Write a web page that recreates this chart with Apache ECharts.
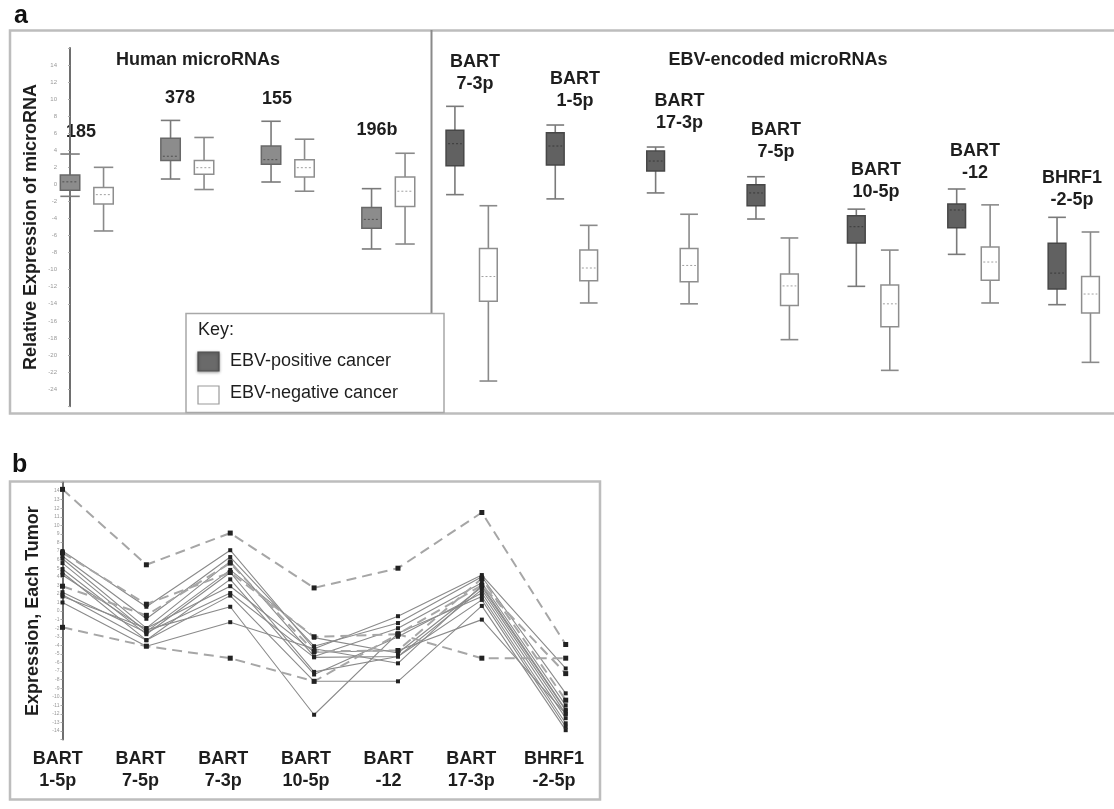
<!DOCTYPE html>
<html>
<head>
<meta charset="utf-8">
<script src="https://cdn.jsdelivr.net/npm/echarts@6/dist/echarts.min.js"></script>
<style>
html,body{margin:0;padding:0;background:#fff;}
#chart{width:1114px;height:809px;}
</style>
</head>
<body>
<div id="chart"></div>
<script>
// ---------- Panel a data: [low whisker, Q1, median, Q3, high whisker] ----------
const humanCats = ['185', '378', '155', '196b'];
const humanPos = [
  [-1.4, -0.7, 0.3, 1.1, 3.56],
  [0.63, 2.8, 3.3, 5.4, 7.5],
  [0.28, 2.35, 2.9, 4.5, 7.4],
  [-7.57, -5.15, -4.1, -2.7, -0.5]
];
const humanNeg = [
  [-5.46, -2.3, -1.2, -0.35, 2.0],
  [-0.6, 1.2, 1.96, 2.8, 5.5],
  [-0.8, 0.87, 1.96, 2.9, 5.3],
  [-6.99, -2.6, -0.8, 0.87, 3.65]
];
const ebvCats = ['BART\n7-3p', 'BART\n1-5p', 'BART\n17-3p', 'BART\n7-5p', 'BART\n10-5p', 'BART\n-12', 'BHRF1\n-2-5p'];
const ebvPos = [
  [-1.2, 2.2, 4.77, 6.34, 9.15],
  [-1.7, 2.27, 4.5, 6.06, 6.96],
  [-1.0, 1.57, 2.74, 3.9, 4.38],
  [-4.06, -2.5, -1.0, -0.03, 0.9],
  [-11.95, -6.87, -4.96, -3.67, -2.9],
  [-8.2, -5.07, -3.0, -2.3, -0.54],
  [-14.1, -12.26, -10.4, -6.9, -3.86]
];
const ebvNeg = [
  [-23.05, -13.7, -10.8, -7.5, -2.5],
  [-13.9, -11.3, -9.8, -7.7, -4.8],
  [-14.0, -11.4, -9.5, -7.5, -3.5],
  [-18.2, -14.2, -11.9, -10.5, -6.28],
  [-21.8, -16.7, -14.0, -11.8, -7.7],
  [-13.9, -11.25, -9.1, -7.34, -2.4],
  [-20.86, -15.07, -12.85, -10.8, -5.58]
];
const axisATicks = [-24, -22, -20, -18, -16, -14, -12, -10, -8, -6, -4, -2, 0, 2, 4, 6, 8, 10, 12, 14];

// ---------- Panel b data: expression of each tumor ----------
const tumorCats = ['BART\n1-5p', 'BART\n7-5p', 'BART\n7-3p', 'BART\n10-5p', 'BART\n-12', 'BART\n17-3p', 'BHRF1\n-2-5p'];
const tumorDashed1 = [14.2, 5.4, 9.1, 2.7, 5.0, 11.5, -3.9];
const tumorDashed2 = [-1.9, -4.1, -5.5, -8.2, -2.7, -5.5, -5.5];
const tumorDashed3 = [6.8, 0.8, 4.5, -3.0, -2.7, 3.0, -7.3];
const tumorDashed4 = [2.9, -0.5, 5.6, -4.7, -4.6, 3.8, -10.4];
const tumor1 = [7.0, 0.5, 7.1, -4.4, -0.6, 4.2, -6.7];
const tumor2 = [6.4, -0.9, 6.3, -4.1, -1.4, 4.0, -9.6];
const tumor3 = [6.1, -2.0, 5.8, -5.3, -2.0, 3.3, -11.0];
const tumor4 = [5.6, -2.4, 4.8, -3.1, -4.9, 2.8, -11.6];
const tumor5 = [4.9, -2.7, 4.5, -7.1, -5.3, 2.5, -12.0];
const tumor6 = [4.5, -3.4, 3.7, -7.4, -3.0, 2.1, -12.5];
const tumor7 = [4.2, -2.2, 0.5, -12.1, -2.6, 1.7, -13.1];
const tumor8 = [2.2, -2.5, 2.1, -5.4, -5.3, 1.3, -13.5];
const tumor9 = [1.9, -3.4, 1.8, -8.2, -8.2, 0.6, -13.9];
const tumor10 = [1.7, -2.0, 2.9, -4.8, -4.6, -1.0, -12.0];
const tumor11 = [1.0, -4.1, -1.3, -4.4, -6.1, 3.0, -11.5];
const axisBTicks = [-14, -13, -12, -11, -10, -9, -8, -7, -6, -5, -4, -3, -2, -1, 0, 1, 2, 3, 4, 5, 6, 7, 8, 9, 10, 11, 12, 13, 14];

// ---------- helpers ----------
const FONT = '"Liberation Sans", Arial, Helvetica, sans-serif';
function boxData(stats, offset) {
  return stats.map((s, i) => [i * 3 + offset].concat(s));
}
function boxRenderer(fill, stroke, whisker, medColor, widthUnits) {
  return function (params, api) {
    const x = api.value(0);
    const pLow = api.coord([x, api.value(1)]);
    const pQ1 = api.coord([x, api.value(2)]);
    const pMed = api.coord([x, api.value(3)]);
    const pQ3 = api.coord([x, api.value(4)]);
    const pHigh = api.coord([x, api.value(5)]);
    const bw = api.size([widthUnits, 0])[0];
    const cx = pLow[0];
    const ls = {stroke: whisker, lineWidth: 1.6};
    return {
      type: 'group',
      children: [
        {type: 'line', shape: {x1: cx, y1: pHigh[1], x2: cx, y2: pQ3[1]}, style: ls},
        {type: 'line', shape: {x1: cx, y1: pQ1[1], x2: cx, y2: pLow[1]}, style: ls},
        {type: 'line', shape: {x1: cx - bw / 2, y1: pHigh[1], x2: cx + bw / 2, y2: pHigh[1]}, style: ls},
        {type: 'line', shape: {x1: cx - bw / 2, y1: pLow[1], x2: cx + bw / 2, y2: pLow[1]}, style: ls},
        {type: 'rect', shape: {x: cx - bw / 2, y: pQ3[1], width: bw, height: pQ1[1] - pQ3[1]},
          style: {fill: fill, stroke: stroke, lineWidth: 1.5}},
        {type: 'line', shape: {x1: cx - bw / 2 + 2, y1: pMed[1], x2: cx + bw / 2 - 2, y2: pMed[1]},
          style: {stroke: medColor, lineWidth: 1, lineDash: [2, 2]}}
      ]
    };
  };
}
function tumorLine(data, dashed) {
  return {
    type: 'line', xAxisIndex: 2, yAxisIndex: 2, data: data,
    symbol: 'rect', symbolSize: dashed ? 5 : 4, silent: true, animation: false,
    itemStyle: {color: '#222'},
    lineStyle: dashed ? {color: '#a6a6a6', width: 2, type: [10, 6]} : {color: '#8a8a8a', width: 1.1},
    z: dashed ? 3 : 2
  };
}
function labelText(text, x, y, size, bold) {
  return {
    type: 'text', x: x, y: y, silent: true,
    style: {text: text, font: (bold ? 'bold ' : '') + size + 'px ' + FONT, fill: '#1e1e1e',
      textAlign: 'center', textVerticalAlign: 'middle', lineHeight: 22}
  };
}

const chart = echarts.init(document.getElementById('chart'), null, {renderer: 'canvas'});

const aLabels = [
  labelText('Human microRNAs', 198, 60, 18, true),
  labelText('EBV-encoded microRNAs', 778, 60, 18, true),
  labelText(humanCats[0], 81, 132, 18, true),
  labelText(humanCats[1], 180, 98, 18, true),
  labelText(humanCats[2], 277, 99, 18, true),
  labelText(humanCats[3], 377, 130, 18, true),
  labelText(ebvCats[0], 475, 73.5, 18, true),
  labelText(ebvCats[1], 575, 90.5, 18, true),
  labelText(ebvCats[2], 679.5, 112.5, 18, true),
  labelText(ebvCats[3], 776, 141, 18, true),
  labelText(ebvCats[4], 876, 181.5, 18, true),
  labelText(ebvCats[5], 975, 162, 18, true),
  labelText(ebvCats[6], 1072, 189, 18, true)
];

const option = {
  backgroundColor: '#ffffff',
  animation: false,
  textStyle: {fontFamily: FONT},
  grid: [
    {left: 60, top: 47.9, width: 355.1, height: 358.3},
    {left: 431.5, top: 47.9, width: 682.4, height: 358.3},
    {left: 62.5, top: 482.5, width: 503.2, height: 257.1},
    {left: 57.8, top: 482.5, width: 496.2, height: 257.1}
  ],
  xAxis: [
    {type: 'value', gridIndex: 0, min: -0.3, max: 10.3, show: false},
    {type: 'value', gridIndex: 1, min: -0.7, max: 19.7, show: false},
    {type: 'category', gridIndex: 2, data: tumorCats, boundaryGap: false,
      axisLine: {show: false}, axisTick: {show: false}, axisLabel: {show: false}, splitLine: {show: false}},
    {type: 'category', gridIndex: 3, data: tumorCats, boundaryGap: false,
      axisLine: {show: false}, axisTick: {show: false}, splitLine: {show: false},
      axisLabel: {show: true, interval: 0, margin: 8, fontSize: 18, fontWeight: 'bold', color: '#1e1e1e',
        lineHeight: 22, fontFamily: FONT}}
  ],
  yAxis: [
    {type: 'value', gridIndex: 0, min: -26, max: 16, interval: 2,
      name: 'Relative Expression of microRNA', nameLocation: 'middle', nameGap: 20,
      nameTextStyle: {fontSize: 18, fontWeight: 'bold', color: '#1e1e1e', fontFamily: FONT},
      axisLine: {show: true, lineStyle: {color: '#6e6e6e', width: 2}},
      axisTick: {show: true, length: 2, lineStyle: {color: '#aaa'}},
      splitLine: {show: false},
      axisLabel: {fontSize: 6, color: '#999', margin: 3,
        formatter: v => (axisATicks.indexOf(v) >= 0 ? String(v) : '')}},
    {type: 'value', gridIndex: 1, min: -26, max: 16, interval: 2, show: false, splitLine: {show: false}},
    {type: 'value', gridIndex: 2, min: -15, max: 15, interval: 1,
      name: 'Expression, Each Tumor', nameLocation: 'middle', nameGap: 20,
      nameTextStyle: {fontSize: 18, fontWeight: 'bold', color: '#1e1e1e', fontFamily: FONT},
      axisLine: {show: true, lineStyle: {color: '#6e6e6e', width: 2}},
      axisTick: {show: true, length: 2, lineStyle: {color: '#aaa'}},
      splitLine: {show: false},
      axisLabel: {fontSize: 5, color: '#999', margin: 3,
        formatter: v => (axisBTicks.indexOf(v) >= 0 ? String(v) : '')}},
    {type: 'value', gridIndex: 3, min: -15, max: 15, show: false, splitLine: {show: false}}
  ],
  graphic: {
    elements: [
      {type: 'text', x: 14, y: 29, silent: true,
        style: {text: 'a', font: 'bold 25px ' + FONT, fill: '#111', textVerticalAlign: 'bottom'}},
      {type: 'text', x: 12, y: 478, silent: true,
        style: {text: 'b', font: 'bold 25px ' + FONT, fill: '#111', textVerticalAlign: 'bottom'}},
      {type: 'rect', silent: true, shape: {x: 10, y: 30.5, width: 1115, height: 383},
        style: {fill: 'none', stroke: '#bdbdbd', lineWidth: 2.5}},
      {type: 'line', silent: true, shape: {x1: 431.5, y1: 30, x2: 431.5, y2: 313},
        style: {stroke: '#8a8a8a', lineWidth: 2}},
      {type: 'rect', silent: true, shape: {x: 10, y: 481.5, width: 590, height: 318},
        style: {fill: 'none', stroke: '#bdbdbd', lineWidth: 2.5}},
      {type: 'rect', silent: true, shape: {x: 186, y: 313.5, width: 258, height: 99},
        style: {fill: '#fff', stroke: '#a8a8a8', lineWidth: 1.5}, z: 10},
      {type: 'text', silent: true, x: 198, y: 330, z: 11,
        style: {text: 'Key:', font: '18px ' + FONT, fill: '#1e1e1e', textVerticalAlign: 'middle'}},
      {type: 'rect', silent: true, shape: {x: 198, y: 352, width: 21, height: 19}, z: 11,
        style: {fill: '#6a6a6a', stroke: '#4e4e4e', lineWidth: 1.2,
          shadowBlur: 3, shadowColor: 'rgba(0,0,0,0.35)', shadowOffsetY: 1}},
      {type: 'text', silent: true, x: 230, y: 361, z: 11,
        style: {text: 'EBV-positive cancer', font: '18px ' + FONT, fill: '#1e1e1e', textVerticalAlign: 'middle'}},
      {type: 'rect', silent: true, shape: {x: 198, y: 386, width: 21, height: 18}, z: 11,
        style: {fill: '#fff', stroke: '#9a9a9a', lineWidth: 1.2}},
      {type: 'text', silent: true, x: 230, y: 393, z: 11,
        style: {text: 'EBV-negative cancer', font: '18px ' + FONT, fill: '#1e1e1e', textVerticalAlign: 'middle'}}
    ].concat(aLabels)
  },
  series: [
    {type: 'custom', name: 'EBV-positive cancer', xAxisIndex: 0, yAxisIndex: 0,
      data: boxData(humanPos, 0), encode: {x: 0, y: [1, 2, 3, 4, 5]},
      renderItem: boxRenderer('#8c8c8c', '#686868', '#7a7a7a', '#505050', 0.58)},
    {type: 'custom', name: 'EBV-negative cancer', xAxisIndex: 0, yAxisIndex: 0,
      data: boxData(humanNeg, 1), encode: {x: 0, y: [1, 2, 3, 4, 5]},
      renderItem: boxRenderer('#ffffff', '#8e8e8e', '#8a8a8a', '#a0a0a0', 0.58)},
    {type: 'custom', name: 'EBV-positive cancer', xAxisIndex: 1, yAxisIndex: 1,
      data: boxData(ebvPos, 0), encode: {x: 0, y: [1, 2, 3, 4, 5]},
      renderItem: boxRenderer('#616161', '#474747', '#7a7a7a', '#3a3a3a', 0.53)},
    {type: 'custom', name: 'EBV-negative cancer', xAxisIndex: 1, yAxisIndex: 1,
      data: boxData(ebvNeg, 1), encode: {x: 0, y: [1, 2, 3, 4, 5]},
      renderItem: boxRenderer('#ffffff', '#8e8e8e', '#8a8a8a', '#a0a0a0', 0.53)},
    tumorLine(tumor1, false), tumorLine(tumor2, false), tumorLine(tumor3, false),
    tumorLine(tumor4, false), tumorLine(tumor5, false), tumorLine(tumor6, false),
    tumorLine(tumor7, false), tumorLine(tumor8, false), tumorLine(tumor9, false),
    tumorLine(tumor10, false), tumorLine(tumor11, false),
    tumorLine(tumorDashed1, true), tumorLine(tumorDashed2, true),
    tumorLine(tumorDashed3, true), tumorLine(tumorDashed4, true)
  ]
};
chart.setOption(option);
</script>
</body>
</html>
